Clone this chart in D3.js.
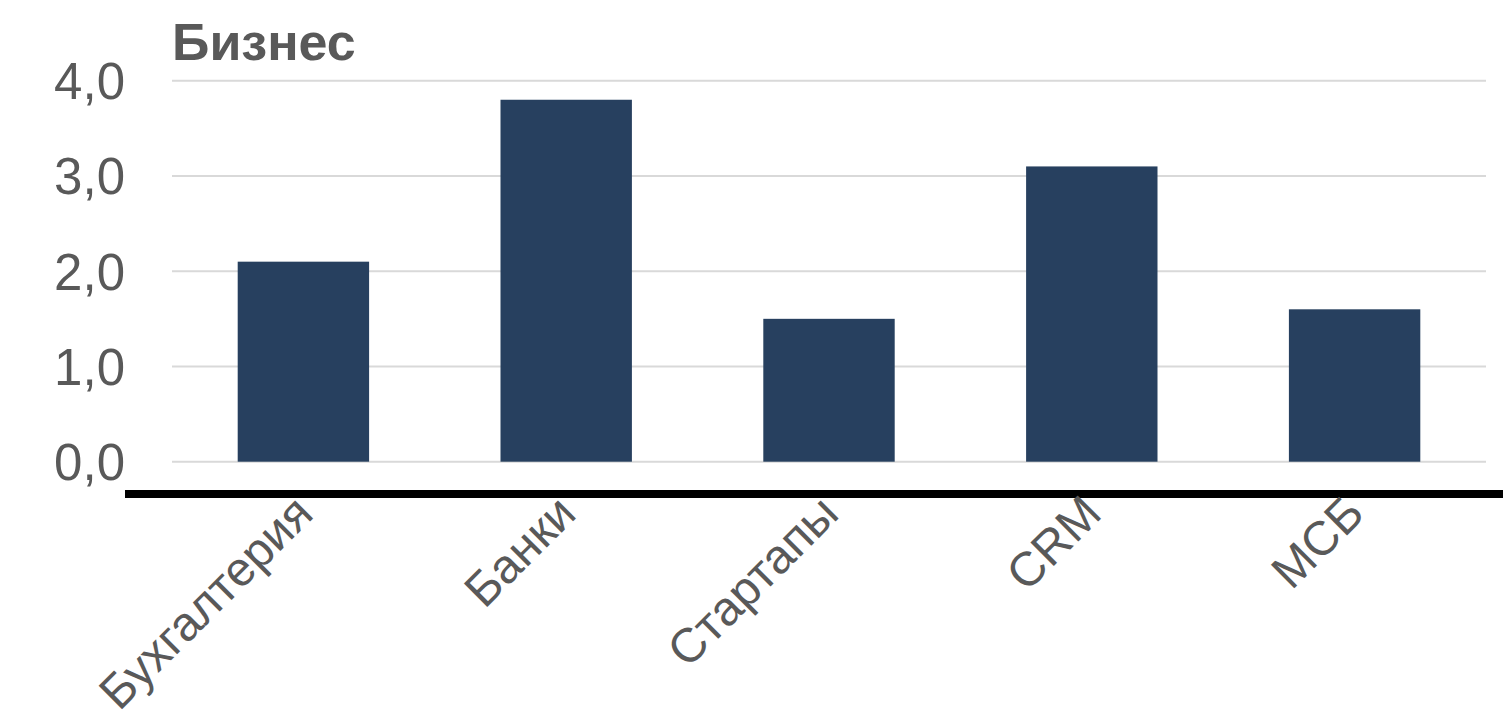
<!DOCTYPE html>
<html>
<head>
<meta charset="utf-8">
<script src="https://cdn.jsdelivr.net/npm/d3@7"></script>
<style>
html,body{margin:0;padding:0;background:#fff;}
svg{display:block;}
</style>
</head>
<body>
<script>
const title = "Бизнес";
const categories = ["Бухгалтерия", "Банки", "Стартапы", "CRM", "МСБ"];
const values = [2.1, 3.8, 1.5, 3.1, 1.6];
const yTicks = [0, 1, 2, 3, 4];

const W = 1512, H = 721;
const svg = d3.select("body").append("svg").attr("width", W).attr("height", H);

const x = d3.scaleBand().domain(categories).range([172, 1486]).paddingInner(0.5).paddingOuter(0.25);
const y = d3.scaleLinear().domain([0, 4]).range([461.7, 80.7]);

const font = "'Liberation Sans', Arial, sans-serif";
const grey = "#595959";

// gridlines
svg.append("g").selectAll("line").data(yTicks).join("line")
  .attr("x1", 172).attr("x2", 1486)
  .attr("y1", d => y(d)).attr("y2", d => y(d))
  .attr("stroke", "#d9d9d9").attr("stroke-width", 2);

// y tick labels
svg.append("g").selectAll("text").data(yTicks).join("text")
  .attr("x", 125).attr("y", d => y(d))
  .attr("dy", "0.36em")
  .attr("text-anchor", "end")
  .attr("font-family", font).attr("font-size", 51).attr("fill", grey)
  .text(d => d3.format(".1f")(d).replace(".", ","));

// bars
svg.append("g").selectAll("rect").data(values).join("rect")
  .attr("x", (d, i) => x(categories[i]))
  .attr("width", x.bandwidth())
  .attr("y", d => y(d))
  .attr("height", d => y(0) - y(d))
  .attr("fill", "#27405F");

// axis baseline
svg.append("line").attr("x1", 125).attr("x2", 1503).attr("y1", 494).attr("y2", 494)
  .attr("stroke", "#000").attr("stroke-width", 8);

// category labels
svg.append("g").selectAll("text").data(categories).join("text")
  .attr("transform", d => `translate(${x(d) + x.bandwidth() / 2 + 12},${516}) rotate(-45)`)
  .attr("text-anchor", "end")
  .attr("font-family", font).attr("font-size", 48).attr("fill", grey)
  .text(d => d);

// title
svg.append("text").attr("x", 172).attr("y", 60)
  .attr("font-family", font).attr("font-size", 52).attr("font-weight", "bold").attr("fill", grey)
  .text(title);
</script>
</body>
</html>
